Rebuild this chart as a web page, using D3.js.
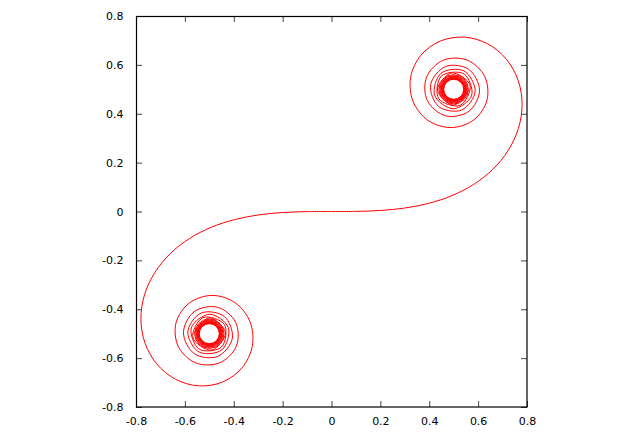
<!DOCTYPE html>
<html><head><meta charset="utf-8">
<script src="https://cdn.jsdelivr.net/npm/d3@7"></script>
<style>body{margin:0;background:#fff}</style>
</head><body>
<svg id="c" width="636" height="435"></svg>
<script>
// Curve points (x, y) read along the upper branch of the spiral
const upperBranch = [
[0.0000,0.0000],[0.0999,0.0005],[0.1999,0.0042],[0.2994,0.0141],[0.3975,0.0334],
[0.4923,0.0647],[0.5811,0.1105],[0.6597,0.1721],[0.7228,0.2493],[0.7648,0.3398],
[0.7799,0.4383],[0.7638,0.5365],[0.7154,0.6234],[0.6386,0.6863],[0.5431,0.7135],
[0.4453,0.6975],[0.3655,0.6389],[0.3238,0.5492],[0.3336,0.4509],[0.3944,0.3733],
[0.4882,0.3434],[0.5816,0.3743],[0.6363,0.4557],[0.6266,0.5532],[0.5550,0.6197],
[0.4574,0.6192],[0.3890,0.5500],[0.3925,0.4529],[0.4675,0.3915],[0.5624,0.4102],
[0.6058,0.4963],[0.5616,0.5818],[0.4664,0.5933],[0.4058,0.5192],[0.4385,0.4296],
[0.5326,0.4152],[0.5880,0.4923],[0.5420,0.5750],[0.4481,0.5656],[0.4223,0.4752],
[0.4984,0.4205],[0.5737,0.4758],[0.5417,0.5632],[0.4494,0.5540],[0.4383,0.4623],
[0.5261,0.4342],[0.5673,0.5162],[0.4914,0.5672],[0.4338,0.4968],[0.5002,0.4350],
[0.5636,0.4992]
];
// Curve points (x, y) read along the lower branch of the spiral
const lowerBranch = [
[-0.0000,-0.0000],[-0.0999,-0.0005],[-0.1999,-0.0042],[-0.2994,-0.0141],[-0.3975,-0.0334],
[-0.4923,-0.0647],[-0.5811,-0.1105],[-0.6597,-0.1721],[-0.7228,-0.2493],[-0.7648,-0.3398],
[-0.7799,-0.4383],[-0.7638,-0.5365],[-0.7154,-0.6234],[-0.6386,-0.6863],[-0.5431,-0.7135],
[-0.4453,-0.6975],[-0.3655,-0.6389],[-0.3238,-0.5492],[-0.3336,-0.4509],[-0.3944,-0.3733],
[-0.4882,-0.3434],[-0.5816,-0.3743],[-0.6363,-0.4557],[-0.6266,-0.5532],[-0.5550,-0.6197],
[-0.4574,-0.6192],[-0.3890,-0.5500],[-0.3925,-0.4529],[-0.4675,-0.3915],[-0.5624,-0.4102],
[-0.6058,-0.4963],[-0.5616,-0.5818],[-0.4664,-0.5933],[-0.4058,-0.5192],[-0.4385,-0.4296],
[-0.5326,-0.4152],[-0.5880,-0.4923],[-0.5420,-0.5750],[-0.4481,-0.5656],[-0.4223,-0.4752],
[-0.4984,-0.4205],[-0.5737,-0.4758],[-0.5417,-0.5632],[-0.4494,-0.5540],[-0.4383,-0.4623],
[-0.5261,-0.4342],[-0.5673,-0.5162],[-0.4914,-0.5672],[-0.4338,-0.4968],[-0.5002,-0.4350],
[-0.5636,-0.4992]
];
// Innermost tight windings: centre and radius of each ring
const upperRingCentre = [0.5, 0.5];
const lowerRingCentre = [-0.5, -0.5];
const ringRadii = [0.060, 0.056, 0.053, 0.050, 0.048, 0.046, 0.044, 0.0425, 0.041];
// Axis ticks
const tickValues = [-0.8, -0.6, -0.4, -0.2, 0, 0.2, 0.4, 0.6, 0.8];
const tickLabels = ["-0.8", "-0.6", "-0.4", "-0.2", "0", "0.2", "0.4", "0.6", "0.8"];

const L = 136, T = 16, W = 391, H = 391;
const svg = d3.select("#c");
const x = d3.scaleLinear().domain([-0.8, 0.8]).range([L, L + W]);
const y = d3.scaleLinear().domain([-0.8, 0.8]).range([T + H, T]);
const fmt = v => tickLabels[tickValues.indexOf(v)];
const font = "DejaVu Sans, sans-serif";

const plot = svg.append("g");
const line = d3.line().x(d => x(d[0])).y(d => y(d[1])).curve(d3.curveCatmullRom.alpha(0.5));
[upperBranch, lowerBranch].forEach(b => {
  plot.append("path").attr("d", line(b)).attr("fill", "none")
    .attr("stroke", "#ff0000").attr("stroke-width", 1);
});
[upperRingCentre, lowerRingCentre].forEach(c => {
  plot.selectAll(null).data(ringRadii).enter().append("ellipse")
    .attr("cx", x(c[0])).attr("cy", y(c[1]))
    .attr("rx", r => x(c[0] + r) - x(c[0]))
    .attr("ry", r => y(c[1]) - y(c[1] + r))
    .attr("fill", "none").attr("stroke", "#ff0000").attr("stroke-width", 1);
});

function styleAxis(g) {
  g.select(".domain").remove();
  g.selectAll(".tick line").attr("stroke", "#444").attr("stroke-width", 1);
  g.selectAll(".tick text").attr("font-family", font).attr("font-size", 11).attr("fill", "#000");
}
svg.append("g").attr("transform", `translate(0,${T + H})`)
  .call(d3.axisBottom(x).tickValues(tickValues).tickFormat(fmt).tickSizeInner(-6).tickSizeOuter(0).tickPadding(10))
  .call(styleAxis);
svg.append("g").attr("transform", `translate(0,${T})`)
  .call(d3.axisTop(x).tickValues(tickValues).tickFormat("").tickSizeInner(-6).tickSizeOuter(0))
  .call(styleAxis);
svg.append("g").attr("transform", `translate(${L},0)`)
  .call(d3.axisLeft(y).tickValues(tickValues).tickFormat(fmt).tickSizeInner(-6).tickSizeOuter(0).tickPadding(12.5))
  .call(styleAxis);
svg.append("g").attr("transform", `translate(${L + W},0)`)
  .call(d3.axisRight(y).tickValues(tickValues).tickFormat("").tickSizeInner(-6).tickSizeOuter(0))
  .call(styleAxis);

svg.append("rect").attr("x", L + 0.5).attr("y", T + 0.5).attr("width", W - 0.5).attr("height", H - 0.5)
  .attr("fill", "none").attr("stroke", "#000").attr("stroke-width", 1.2);
</script>
</body></html>
